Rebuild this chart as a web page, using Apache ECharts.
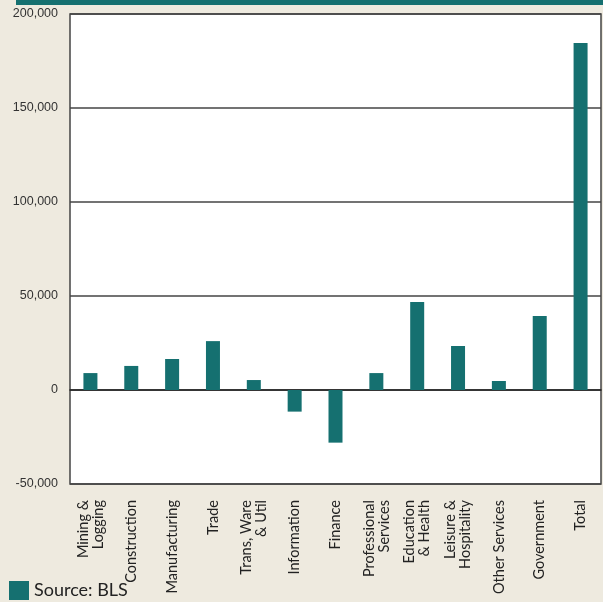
<!DOCTYPE html>
<html>
<head>
<meta charset="utf-8">
<script src="https://cdn.jsdelivr.net/npm/echarts@6/dist/echarts.min.js"></script>
<style>
html,body{margin:0;padding:0;background:#eeeadf;}
#c{width:603px;height:602px;}
</style>
</head>
<body>
<div id="c"></div>
<script>
const categories = ["Mining &\nLogging","Construction","Manufacturing","Trade","Trans, Ware\n& Util","Information","Finance","Professional\nServices","Education\n& Health","Leisure &\nHospitality","Other Services","Government","Total"];
const values = [9000, 12800, 16500, 26000, 5300, -11500, -28000, 9000, 46800, 23400, 4800, 39400, 184600];
const yTicks = [-50000, 0, 50000, 100000, 150000, 200000];
const seriesName = "Source: BLS";

const chart = echarts.init(document.getElementById('c'));
chart.setOption({
  backgroundColor: '#eeeadf',
  animation: false,
  graphic: [
    {type:'rect', shape:{x:16,y:0,width:587,height:5}, style:{fill:'#157070'}, z:10}
  ],
  legend: {
    left: 4, bottom: -3,
    icon: 'rect',
    itemWidth: 20, itemHeight: 19, itemGap: 10,
    textStyle: {fontFamily: 'Lato', fontSize: 18, color: '#222'},
    data: [seriesName]
  },
  grid: {
    left: 70, right: 2, top: 14, bottom: 118,
    show: true, backgroundColor: '#ffffff', borderColor: '#444', borderWidth: 1.5
  },
  xAxis: {
    type: 'category',
    data: categories,
    axisLine: {show: true, onZero: true, lineStyle: {color: '#222', width: 1.5}},
    axisTick: {show: false},
    axisLabel: {
      interval: 0, rotate: 90, margin: 16,
      fontFamily: 'Lato', fontSize: 14.5, lineHeight: 15, color: '#222'
    }
  },
  yAxis: {
    type: 'value',
    min: yTicks[0], max: yTicks[yTicks.length-1], interval: 50000,
    axisLine: {show: false},
    axisTick: {show: false},
    splitLine: {lineStyle: {color: '#444', width: 1.5}},
    axisLabel: {
      margin: 12,
      fontFamily: 'Liberation Sans', fontSize: 12.5, color: '#333',
      formatter: v => v.toLocaleString('en-US')
    }
  },
  series: [{
    name: seriesName,
    type: 'bar',
    data: values,
    barWidth: 14,
    itemStyle: {color: '#157070'}
  }]
});
</script>
</body>
</html>
